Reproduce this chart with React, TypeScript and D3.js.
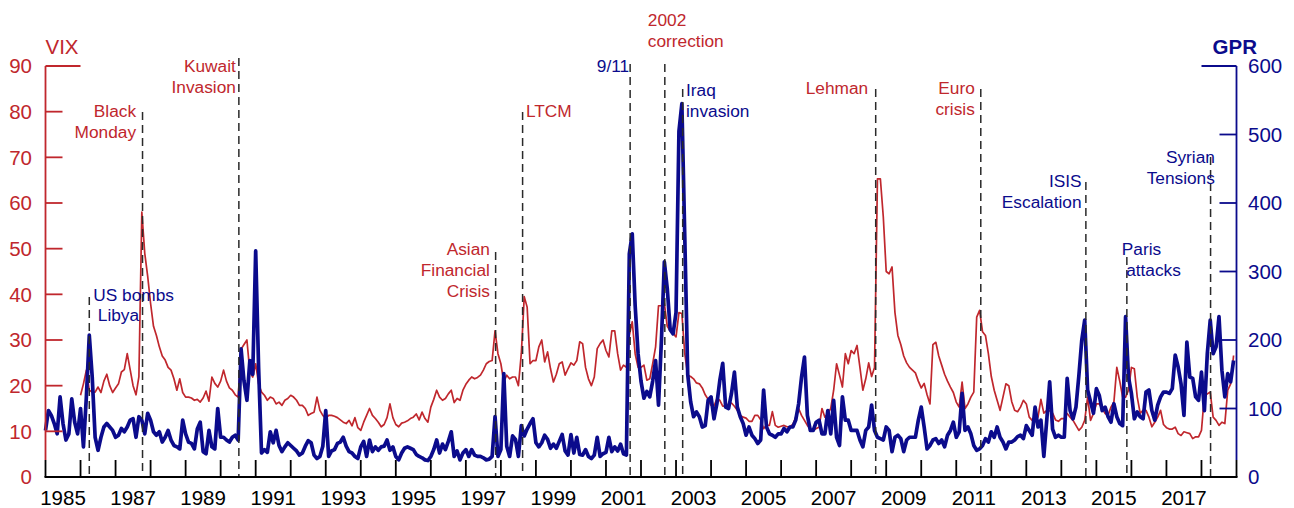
import React from 'react';
import * as d3 from 'd3';

// ---------------- DATA ----------------
// Geopolitical Risk index (GPR), monthly, Jan 1985 - Dec 2018
const GPR_START = 1985;
const gprValues: number[] = [
  68, 97, 90, 78, 63, 117, 78, 54, 63, 114, 80, 63, // 1985
  100, 44, 117, 207, 146, 58, 39, 58, 73, 78, 73, 68, // 1986
  58, 61, 71, 66, 73, 83, 85, 58, 88, 83, 63, 93, // 1987
  83, 66, 61, 66, 51, 58, 68, 54, 46, 44, 41, 83, // 1988
  63, 51, 49, 41, 70, 80, 37, 34, 68, 44, 41, 100, // 1989
  58, 58, 54, 51, 58, 61, 54, 187, 140, 112, 170, 150, // 1990
  330, 160, 35, 40, 36, 66, 50, 68, 46, 37, 44, 50, // 1991
  46, 42, 38, 32, 35, 45, 53, 50, 32, 27, 30, 45, // 1992
  97, 30, 38, 40, 49, 51, 58, 45, 37, 35, 30, 27, // 1993
  44, 52, 30, 54, 37, 44, 39, 44, 45, 54, 39, 44, // 1994
  30, 25, 35, 42, 44, 42, 40, 33, 30, 28, 25, 24, // 1995
  30, 40, 54, 35, 48, 40, 52, 66, 30, 38, 25, 35, // 1996
  40, 30, 40, 32, 30, 30, 28, 25, 26, 30, 88, 30, // 1997
  40, 151, 45, 30, 60, 55, 30, 75, 60, 70, 78, 85, // 1998
  50, 44, 50, 61, 55, 42, 48, 42, 52, 62, 38, 32, // 1999
  62, 35, 58, 33, 32, 40, 30, 27, 32, 58, 30, 34, // 2000
  36, 58, 37, 44, 38, 48, 34, 32, 326, 355, 250, 180, // 2001
  140, 115, 125, 117, 140, 170, 105, 200, 314, 275, 215, 209, // 2002
  240, 505, 545, 350, 150, 110, 88, 95, 88, 73, 75, 112, // 2003
  117, 85, 107, 141, 166, 102, 100, 122, 153, 102, 88, 78, // 2004
  61, 73, 61, 56, 49, 54, 127, 73, 63, 61, 58, 63, // 2005
  63, 71, 66, 73, 73, 83, 107, 146, 175, 90, 68, 68, // 2006
  80, 83, 63, 63, 97, 63, 112, 58, 46, 117, 83, 83, // 2007
  68, 68, 68, 54, 44, 68, 73, 105, 68, 58, 56, 54, // 2008
  73, 68, 37, 58, 61, 56, 37, 54, 58, 58, 58, 83, // 2009
  102, 73, 41, 46, 54, 56, 49, 54, 44, 61, 68, 80, // 2010
  58, 66, 122, 68, 73, 63, 46, 39, 41, 46, 56, 51, // 2011
  66, 58, 73, 58, 51, 41, 51, 51, 54, 59, 61, 56, // 2012
  75, 68, 61, 102, 73, 83, 30, 83, 139, 70, 58, 61, // 2013
  58, 58, 144, 97, 85, 102, 148, 200, 229, 127, 110, 93, // 2014
  129, 119, 97, 102, 88, 80, 107, 88, 78, 75, 234, 146, // 2015
  122, 85, 95, 88, 85, 124, 127, 97, 83, 105, 117, 124, // 2016
  124, 122, 129, 178, 161, 136, 90, 197, 146, 144, 117, 112, // 2017
  153, 97, 180, 229, 180, 190, 234, 156, 117, 151, 139, 170, // 2018
];

// VIX, monthly, Jan 1986 - Dec 2018
const VIX_START = 1986;
const vixValues: number[] = [
  17.9, 20.4, 23.4, 19, 18.6, 18.6, 19.7, 18.5, 21, 22.5, 20, 18.5, // 1986
  19.5, 20.4, 23, 23.5, 27, 23.5, 20, 18, 22, 58, 49, 44, // 1987
  38, 33, 31, 28.5, 26.5, 25.6, 24, 23.4, 21.5, 19, 21.5, 18.5, // 1988
  17.5, 17.5, 17.3, 16.8, 17, 16.4, 17.3, 18.8, 16.6, 21.9, 20.5, 19.7, // 1989
  21, 23.4, 21, 19.5, 19, 18, 17.5, 28, 29, 30, 23, 21.9, // 1990
  24.8, 20.4, 18.6, 17.9, 16.8, 17.5, 17.2, 16, 16.4, 15.7, 16.8, 17.2, // 1991
  17.9, 17.5, 16.8, 15.7, 15.7, 15, 13.5, 13.9, 14.2, 17.5, 14.6, 13.5, // 1992
  12.8, 13.5, 13.5, 13.3, 13, 12.5, 12, 11.7, 12.4, 11.2, 13, 10.8, // 1993
  10.2, 12, 13.5, 15, 13.5, 12.8, 12, 11, 11.5, 13, 16, 13, // 1994
  11.5, 11, 11.8, 12, 12.3, 12.8, 13.1, 13.8, 12.5, 14.2, 12.8, 12, // 1995
  15.3, 17, 19, 17.5, 16.8, 17.2, 18.2, 19, 16.3, 17.2, 16.8, 19, // 1996
  20.3, 21.2, 21.9, 21.5, 21.8, 22.3, 23.4, 24.8, 25.3, 25.5, 32, 27, // 1997
  24.8, 20.8, 22.3, 21.5, 21.9, 21.9, 20, 27, 39.5, 37.2, 24.8, 25.5, // 1998
  25.5, 28.5, 30, 25.2, 27.4, 23.7, 20.8, 22.5, 24.8, 25.2, 22.3, 23.7, // 1999
  25, 24.5, 25.5, 29.6, 29.2, 24, 21.5, 20, 21.9, 28.1, 29.2, 30, // 2000
  27.7, 26.3, 32, 32, 27, 23.4, 24.5, 24, 31, 34, 27, 24, // 2001
  24, 24.5, 21.2, 21.5, 24.8, 28.5, 37.5, 37.5, 38, 33, 32, 31.4, // 2002
  30.7, 36, 35.8, 27, 22.3, 22, 21.5, 20.6, 20.4, 19.5, 18, 17, // 2003
  15.7, 15.5, 17.2, 16.8, 15.5, 15.5, 16, 16.2, 15.5, 14.6, 13.5, 13.1, // 2004
  12.9, 12.2, 12.2, 13.5, 13.5, 12.5, 10.6, 11.3, 11.3, 14.3, 11.3, 10.9, // 2005
  11.1, 11.3, 11, 11, 11.5, 13.1, 15, 13.5, 12.4, 11.3, 10.5, 10.2, // 2006
  10.6, 10.9, 15, 13.1, 13.9, 15, 19, 24.8, 22.3, 19.7, 27, 24.8, // 2007
  27.7, 27, 28.8, 24, 19, 21.5, 25, 22, 24, 65.3, 65.3, 57, // 2008
  45, 44.5, 46, 36, 31, 29, 26.5, 25, 24, 23.4, 22.8, 21, // 2009
  19.5, 20.5, 18, 16, 29, 29.5, 26.5, 24.5, 22.5, 21, 19.7, 18.5, // 2010
  16.4, 15.3, 20.8, 15, 16, 17.5, 18.6, 35, 36.5, 31.8, 31, 27, // 2011
  22, 19, 16.8, 14.6, 17.5, 20.4, 20, 16.5, 14.6, 14.3, 15.3, 16.8, // 2012
  16, 13.1, 12.4, 13.2, 13.1, 17, 14, 14.6, 14.5, 14, 12.5, 12.2, // 2013
  12.8, 12.8, 13.9, 13.1, 12.4, 11.3, 10.2, 10.9, 12.4, 17.5, 12.4, 13.9, // 2014
  16, 16, 15, 13.9, 13.5, 15.3, 16.4, 24, 21, 17.5, 17.5, 19, // 2015
  24, 23.7, 17.5, 14, 14.6, 14.6, 13.1, 11, 12, 13.1, 14.6, 11.5, // 2016
  10.8, 10.5, 10.5, 10.9, 9.5, 9.1, 9.9, 9.7, 9.5, 8.4, 8.8, 8.8, // 2017
  10.2, 17.9, 18.2, 18.6, 13.1, 12.4, 11.3, 12, 11.7, 19, 20.4, 26.6, // 2018
];

const vixTicks = [0, 10, 20, 30, 40, 50, 60, 70, 80, 90];
const gprTicks = [0, 100, 200, 300, 400, 500, 600];
const yearTicks = d3.range(1986, 2019);
const yearLabels = d3.range(1985, 2018, 2);

// Events: date (fractional year), label lines, which series colour
const eventDates = [1986.25, 1987.77, 1990.52, 1997.85, 1998.62, 2001.69, 2002.68, 2003.19, 2008.70, 2011.70, 2014.70, 2015.87, 2018.26];
const eventLabels = [
  ['US bombs', 'Libya'],
  ['Black', 'Monday'],
  ['Kuwait', 'Invasion'],
  ['Asian', 'Financial', 'Crisis'],
  ['LTCM'],
  ['9/11'],
  ['2002', 'correction'],
  ['Iraq', 'invasion'],
  ['Lehman'],
  ['Euro', 'crisis'],
  ['ISIS', 'Escalation'],
  ['Paris', 'attacks'],
  ['Syrian', 'Tensions'],
];
const eventSeries = ['gpr', 'vix', 'vix', 'vix', 'vix', 'gpr', 'vix', 'gpr', 'vix', 'vix', 'gpr', 'gpr', 'gpr'];

// Layout of the annotations (pixels): top of dashed line, label anchor, x offsets per line, first baseline
const eventLayout = [
  { top: 297, anchor: 'start', dx: [4, 8.5], base: 300.5 },
  { top: 112, anchor: 'end', dx: [-6.5, -6.5], base: 117.3 },
  { top: 58, anchor: 'end', dx: [-3, -3], base: 71.7 },
  { top: 252, anchor: 'end', dx: [-5.7, -5.7, -5.7], base: 255 },
  { top: 112, anchor: 'start', dx: [3.3], base: 117.3 },
  { top: 64, anchor: 'end', dx: [-1], base: 71.7 },
  { top: 64, anchor: 'start', dx: [-17, -17], base: 26 },
  { top: 89, anchor: 'start', dx: [3.3, 3.3], base: 95.7 },
  { top: 89, anchor: 'end', dx: [-7.5], base: 94.3 },
  { top: 89, anchor: 'end', dx: [-6, -6], base: 94.3 },
  { top: 182, anchor: 'end', dx: [-4.3, -4.3], base: 186.7 },
  { top: 257, anchor: 'start', dx: [-5, -0.7], base: 255 },
  { top: 157, anchor: 'end', dx: [4.3, 4.3], base: 163.3 },
];

// ---------------- STYLE ----------------
const W = 1294;
const H = 508;
const RED = '#C0272D';
const BLUE = '#0B0B8C';
const FONT = '"Liberation Sans", Arial, Helvetica, sans-serif';
const TICK_FS = 20.5;
const LABEL_FS = 17.3;
const LINE_H = 20.8;

const x = d3.scaleLinear().domain([1985, 2019]).range([45.5, 1236.5]);
const yV = d3.scaleLinear().domain([0, 90]).range([477, 66]);
const yG = d3.scaleLinear().domain([0, 600]).range([477, 66]);
const X0 = x(1985);
const X1 = x(2019);
const Y0 = yV(0);
const BLACK_SEG = 17;

export default function App() {
  const vixLine = d3
    .line<number>()
    .x((_, i) => x(VIX_START + i / 12))
    .y((d) => yV(d));
  const gprLine = d3
    .line<number>()
    .x((_, i) => x(GPR_START + i / 12))
    .y((d) => yG(d));

  return (
    <svg
      width={W}
      height={H}
      viewBox={`0 0 ${W} ${H}`}
      style={{ position: 'absolute', left: 0, top: 0, background: '#fff' }}
      fontFamily={FONT}
    >
      <rect width={W} height={H} fill="#fff" />

      {/* series */}
      <path d={vixLine(vixValues) || ''} fill="none" stroke={RED} strokeWidth={1.7} strokeLinejoin="round" />
      <path d={gprLine(gprValues) || ''} fill="none" stroke={BLUE} strokeWidth={3.7} strokeLinejoin="round" />

      {/* event lines + labels */}
      {eventDates.map((d, i) => {
        const L = eventLayout[i];
        const ex = x(d);
        const col = eventSeries[i] === 'vix' ? RED : BLUE;
        return (
          <g key={i}>
            <line x1={ex} x2={ex} y1={L.top} y2={Y0} stroke="#2a2a2a" strokeWidth={1.5} strokeDasharray="8,5" />
            {eventLabels[i].map((t, j) => (
              <text
                key={j}
                x={ex + L.dx[j]}
                y={L.base + j * LINE_H}
                textAnchor={L.anchor as any}
                fontSize={LABEL_FS}
                fill={col}
              >
                {t}
              </text>
            ))}
          </g>
        );
      })}

      {/* left axis (VIX) */}
      <line x1={X0} x2={X0} y1={yV(90)} y2={Y0 - BLACK_SEG} stroke={RED} strokeWidth={1.8} />
      <line x1={X0} x2={X0} y1={Y0 - BLACK_SEG} y2={Y0} stroke="#000" strokeWidth={1.8} />
      {vixTicks.map((t) => (
        <g key={t}>
          {t > 0 && (
            <line x1={X0} x2={X0 + (t === 90 ? 35 : 17)} y1={yV(t)} y2={yV(t)} stroke={RED} strokeWidth={1.8} />
          )}
          <text x={32} y={yV(t) + 7.4} textAnchor="end" fontSize={TICK_FS} fill={RED}>
            {t}
          </text>
        </g>
      ))}
      <text x={X0} y={54} fontSize={TICK_FS} fill={RED}>
        VIX
      </text>

      {/* right axis (GPR) */}
      <line x1={X1} x2={X1} y1={yG(600)} y2={Y0 - BLACK_SEG} stroke={BLUE} strokeWidth={1.8} />
      <line x1={X1} x2={X1} y1={Y0 - BLACK_SEG} y2={Y0} stroke="#000" strokeWidth={1.8} />
      {gprTicks.map((t) => (
        <g key={t}>
          {t > 0 && (
            <line x1={X1 - (t === 600 ? 35 : 17)} x2={X1} y1={yG(t)} y2={yG(t)} stroke={BLUE} strokeWidth={1.8} />
          )}
          <text x={1248} y={yG(t) + 7.4} textAnchor="start" fontSize={TICK_FS} fill={BLUE}>
            {t}
          </text>
        </g>
      ))}
      <text x={1257} y={54} textAnchor="end" fontSize={TICK_FS} fontWeight="bold" fill={BLUE}>
        GPR
      </text>

      {/* x axis */}
      {yearTicks.map((yr) => (
        <line key={yr} x1={x(yr)} x2={x(yr)} y1={Y0} y2={Y0 - BLACK_SEG} stroke="#000" strokeWidth={1.8} />
      ))}
      <line x1={X0 - 1} x2={X1 + 1} y1={Y0} y2={Y0} stroke="#000" strokeWidth={2} />
      {yearLabels.map((yr) => (
        <text key={yr} x={x(yr + 0.5)} y={505} textAnchor="middle" fontSize={TICK_FS} fill="#000">
          {yr}
        </text>
      ))}
    </svg>
  );
}
